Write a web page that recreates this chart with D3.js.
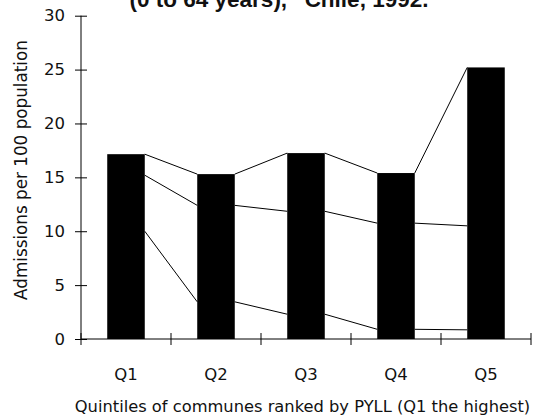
<!DOCTYPE html>
<html>
<head>
<meta charset="utf-8">
<script src="https://cdn.jsdelivr.net/npm/d3@7"></script>
<style>
  body { margin: 0; background: #fff; }
  svg text { font-family: "DejaVu Sans", sans-serif; fill: #111; }
  .axis text { font-size: 16.5px; }
</style>
</head>
<body>
<div id="chart"></div>
<script>

// quintile categories and the three stacked components (admissions per 100)
var quintiles = ["Q1", "Q2", "Q3", "Q4", "Q5"];
var bottomPart = [10.0, 3.45, 2.3, 0.9, 0.85];
var middlePart = [5.2, 8.95, 9.55, 9.85, 9.65];
var topPart = [1.95, 2.9, 5.4, 4.65, 14.7];
var yTicks = [0, 5, 10, 15, 20, 25, 30];

var titleText = "(0 to 64 years),  \u201CChile, 1992.";
var yTitle = "Admissions per 100 population";
var xTitle = "Quintiles of communes ranked by PYLL (Q1 the highest)";

var W = 535, H = 420;
var margin = {top: 15.7, right: 4, bottom: 81, left: 81};
var width = W - margin.left - margin.right,
    height = H - margin.top - margin.bottom;

var data = quintiles.map(function(q, i){
  return {q: q, a: bottomPart[i], b: middlePart[i], c: topPart[i]};
});

var svg = d3.select("#chart").append("svg")
    .attr("width", W)
    .attr("height", H);

var g = svg.append("g")
    .attr("transform", "translate(" + margin.left + "," + margin.top + ")");

var pad = 0.583;
var x = d3.scaleBand()
    .domain(quintiles)
    .range([0, 450])
    .paddingInner(pad)
    .paddingOuter(pad / 2);

var y = d3.scaleLinear()
    .domain([0, 30])
    .range([height, 0]);

// stack the three parts
var stack = d3.stack().keys(["a", "b", "c"]);
var series = stack(data);

// bars
g.selectAll(".bar")
    .data(data)
  .enter().append("rect")
    .attr("class", "bar")
    .attr("x", function(d){ return x(d.q); })
    .attr("width", x.bandwidth())
    .attr("y", function(d){ return y(d.a + d.b + d.c); })
    .attr("height", function(d){ return y(0) - y(d.a + d.b + d.c); })
    .attr("fill", "#000");

// connecting lines between segment tops of neighbouring bars
series.forEach(function(s){
  for (var i = 0; i < s.length - 1; i++) {
    g.append("line")
      .attr("x1", x(quintiles[i]) + x.bandwidth())
      .attr("y1", y(s[i][1]))
      .attr("x2", x(quintiles[i + 1]))
      .attr("y2", y(s[i + 1][1]))
      .attr("stroke", "#000")
      .attr("stroke-width", 1);
  }
});

// y axis
var yAxis = d3.axisLeft(y).tickValues(yTicks).tickSize(0).tickPadding(16);
var yg = g.append("g").attr("class", "axis").call(yAxis);
yg.select(".domain").remove();
yg.append("line").attr("x1", 0).attr("x2", 0).attr("y1", y(30)).attr("y2", y(0)).attr("stroke", "#000");
yg.selectAll(".tick").append("line")
    .attr("x1", -6).attr("x2", 6).attr("stroke", "#000");

// x axis: ticks at band edges
var step = x.step();
var edges = d3.range(quintiles.length + 1).map(function(i){ return i * step; });
var xg = g.append("g").attr("class", "axis")
    .attr("transform", "translate(0," + height + ")");
xg.append("line").attr("x1", 0).attr("x2", 450).attr("stroke", "#000");
xg.selectAll(".edge").data(edges).enter().append("line")
    .attr("class", "edge")
    .attr("x1", function(d){ return d; }).attr("x2", function(d){ return d; })
    .attr("y1", -6).attr("y2", 6).attr("stroke", "#000");
xg.selectAll(".qlab").data(quintiles).enter().append("text")
    .attr("class", "qlab")
    .attr("x", function(d){ return x(d) + x.bandwidth() / 2; })
    .attr("y", 41)
    .attr("text-anchor", "middle")
    .text(function(d){ return d; });

// titles
svg.append("text")
    .attr("x", 302.5)
    .attr("y", 412)
    .attr("text-anchor", "middle")
    .style("font-size", "16.3px")
    .text(xTitle);

svg.append("text")
    .attr("transform", "translate(27,170) rotate(-90)")
    .attr("text-anchor", "middle")
    .style("font-size", "16.8px")
    .text(yTitle);

svg.append("text")
    .attr("x", 279)
    .attr("y", 7)
    .attr("text-anchor", "middle")
    .style("font-family", "'Liberation Sans', Arial, sans-serif")
    .style("font-size", "22.5px")
    .style("font-weight", "bold")
    .text(titleText);

</script>
</body>
</html>
